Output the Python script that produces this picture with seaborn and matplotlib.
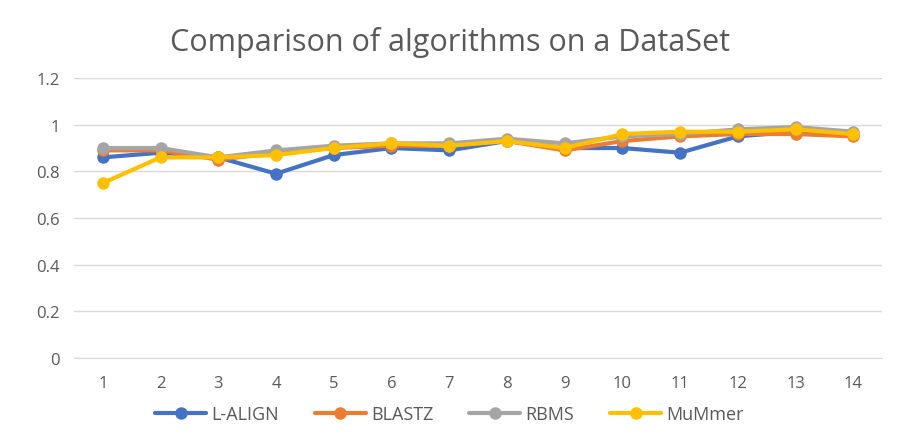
import pandas as pd
import numpy as np
import matplotlib.pyplot as plt
import seaborn as sns

# Valores
datasets = list(range(1, 15))
l_align = [0.86, 0.88, 0.86, 0.79, 0.87, 0.90, 0.89, 0.93, 0.90, 0.90, 0.88, 0.95, 0.97, 0.96]
blastz = [0.89, 0.89, 0.85, 0.88, 0.90, 0.91, 0.91, 0.93, 0.89, 0.93, 0.95, 0.96, 0.96, 0.95]
rbms = [0.90, 0.90, 0.86, 0.89, 0.91, 0.92, 0.92, 0.94, 0.92, 0.95, 0.96, 0.98, 0.99, 0.97]
mummer = [0.75, 0.86, 0.86, 0.87, 0.90, 0.92, 0.91, 0.93, 0.90, 0.96, 0.97, 0.97, 0.98, 0.96]

series_names = ['L-ALIGN', 'BLASTZ', 'RBMS', 'MuMmer']
colors = ['#4472C4', '#ED7D31', '#A5A5A5', '#FFC000']

df = pd.DataFrame({'DataSet': datasets, 'L-ALIGN': l_align, 'BLASTZ': blastz,
                   'RBMS': rbms, 'MuMmer': mummer})
df_long = df.melt(id_vars='DataSet', var_name='Algoritmo', value_name='Score')

sns.set_style('white')
plt.rcParams['font.family'] = ['Open Sans', 'DejaVu Sans']

fig = plt.figure(figsize=(8.99, 4.39), dpi=100)
ax = fig.add_axes([0.0823, 0.182, 0.899, 0.638])

sns.lineplot(data=df_long, x='DataSet', y='Score', hue='Algoritmo', hue_order=series_names,
             palette=colors, marker='o', markersize=9, markeredgewidth=0, linewidth=3,
             ax=ax, legend=False)

ax.set_xlim(0.5, 14.5)
ax.set_ylim(0, 1.2)
ax.set_yticks(np.arange(0, 1.21, 0.2))
ax.set_yticklabels(['0', '0.2', '0.4', '0.6', '0.8', '1', '1.2'])
ax.set_xticks(datasets)
ax.yaxis.grid(True, color='#d9d9d9', linewidth=1)
ax.set_axisbelow(True)
for s in ['top', 'right', 'left']:
    ax.spines[s].set_visible(False)
ax.spines['bottom'].set_color('#d9d9d9')
ax.tick_params(axis='both', length=0, labelsize=12, colors='#595959')
ax.tick_params(axis='x', pad=12)
ax.tick_params(axis='y', pad=10)
ax.set_xlabel('')
ax.set_ylabel('')

fig.text(0.5, 0.903, 'Comparison of algorithms on a DataSet', ha='center', va='center',
         fontsize=22, color='#595959')

handles = [plt.Line2D([], [], color=c, marker='o', markersize=9, linewidth=3, markeredgewidth=0)
           for c in colors]
fig.legend(handles, series_names, loc='center', bbox_to_anchor=(0.5, 0.055), ncol=4,
           frameon=False, fontsize=13, labelcolor='#595959', handlelength=2.8,
           columnspacing=2.0, handletextpad=0.3)

plt.savefig('out.png', dpi=100)
